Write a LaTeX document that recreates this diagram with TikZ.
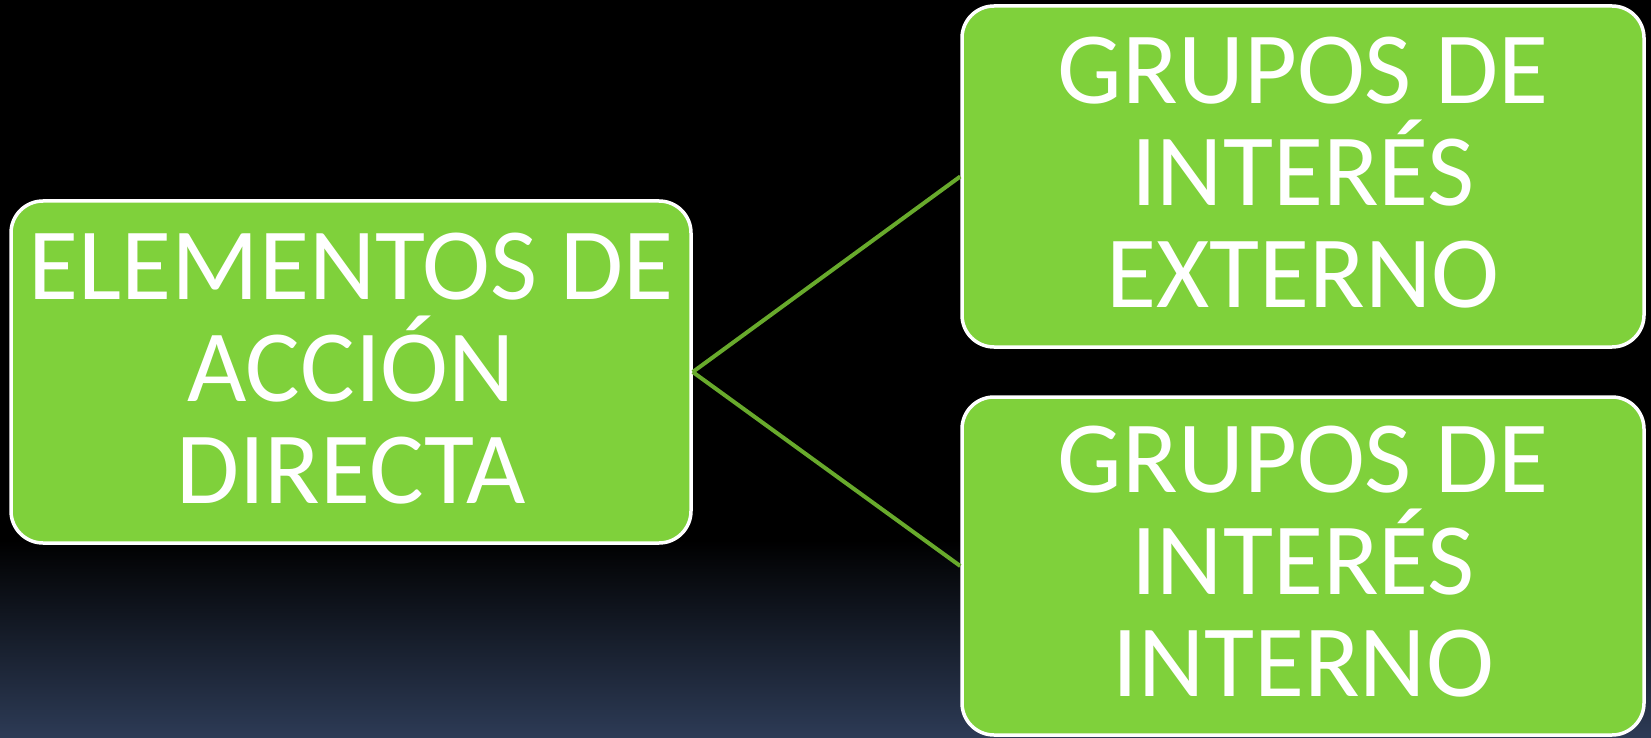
\documentclass[tikz,border=0pt]{standalone}
\usepackage{fontspec}
\setmainfont{Carlito}
\definecolor{boxgreen}{HTML}{7FD13B}
\definecolor{linegreen}{HTML}{68AA2C}
\definecolor{bgblue}{HTML}{2D3B56}
\begin{document}
\begin{tikzpicture}[x=1pt,y=-1pt,
  box/.style={draw=white, line width=3.5pt, fill=boxgreen, rounded corners=32pt, inner sep=0pt},
  label/.style={text=white, align=center, inner sep=0pt, font=\fontsize{102.5}{102}\selectfont},
  conn/.style={draw=linegreen, line width=4pt}]
  \useasboundingbox (0,0) rectangle (1651,738);
  \fill[black] (0,0) rectangle (1651,738);
  \shade[top color=black, bottom color=bgblue] (0,540) rectangle (1651,738.5);
  % boxes
  \node[box, minimum width=680pt, minimum height=342pt] (L) at (351,372) {};
  \node[box, minimum width=682pt, minimum height=341pt] (RT) at (1303,176.5) {};
  \node[box, minimum width=682pt, minimum height=338pt] (RB) at (1303,566) {};
  % texts
  \node[label] (Lt) at (351,369) {ELEMENTOS DE\\ACCIÓN\\DIRECTA};
  \node[label] (RTt) at (1303,173) {GRUPOS DE\\INTERÉS\\EXTERNO};
  \node[label] (RBt) at (1303,562) {GRUPOS DE\\INTERÉS\\INTERNO};
  % connectors
  \draw[conn] (L.east) -- (RT.west);
  \draw[conn] (L.east) -- (RB.west);
\end{tikzpicture}
\end{document}
